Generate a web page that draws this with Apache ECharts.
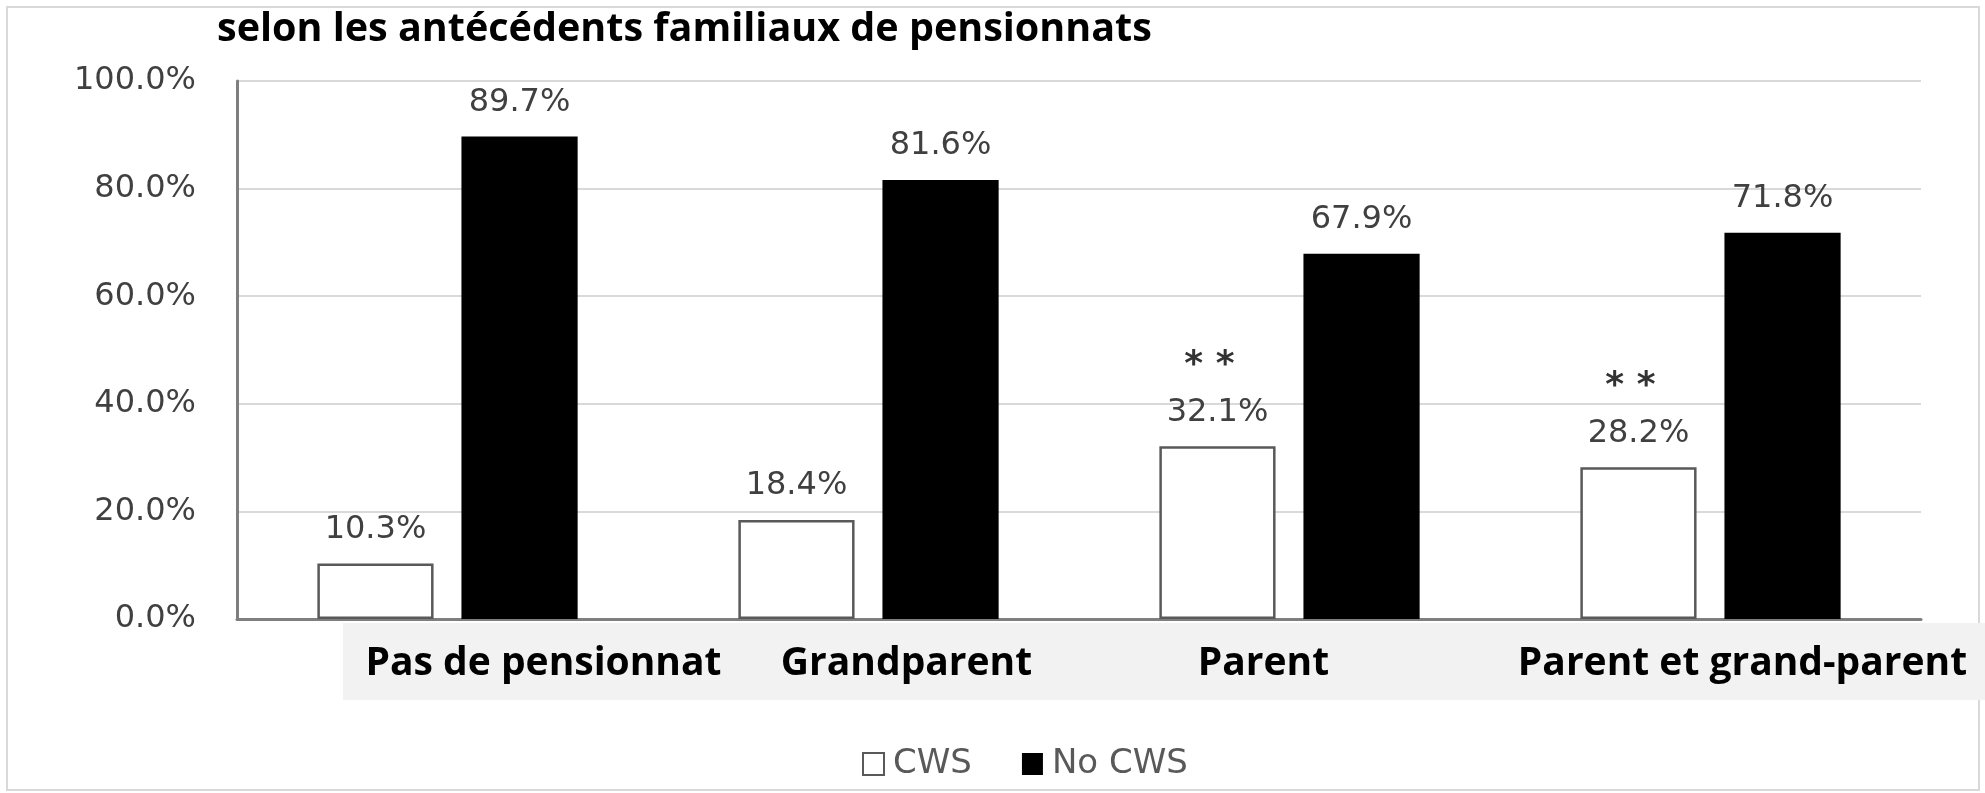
<!DOCTYPE html>
<html>
<head>
<meta charset="utf-8">
<title>CWS selon les antécédents familiaux de pensionnats</title>
<script src="https://cdn.jsdelivr.net/npm/echarts@6/dist/echarts.min.js"></script>
<style>
    html, body { margin: 0; padding: 0; background: #fff; }
    #chart { width: 1985px; height: 793px; }
</style>
</head>
<body>
<div id="chart"></div>
<script>
// data
var categories = ['Pas de pensionnat', 'Grandparent', 'Parent', 'Parent et grand-parent'];
var seriesNames = ['CWS', 'No CWS'];
var cwsValues = [10.3, 18.4, 32.1, 28.2];
var noCwsValues = [89.7, 81.6, 67.9, 71.8];
var significance = ['', '', '**', '**'];
var yMin = 0, yMax = 100, yStep = 20;

// the category labels sit off-centre in the original, shift them a bit (px)
var labelShift = [96, 38, -26, 32];

(function () {
    var myChart = echarts.init(document.getElementById('chart'));

    var catRich = {};
    labelShift.forEach(function (d, i) {
        catRich['c' + i] = {
            fontFamily: 'Open Sans',
            fontWeight: 'bold',
            fontSize: 39,
            color: '#000',
            padding: d > 0 ? [0, 0, 0, 2 * d] : [0, 2 * -d, 0, 0]
        };
    });

    var pct = function (v) { return v.toFixed(1) + '%'; };

    var option = {
        backgroundColor: '#fff',
        animation: false,
        title: {
            text: 'selon les antécédents familiaux de pensionnats',
            left: 217,
            top: 10,
            padding: 0,
            textStyle: {
                fontFamily: 'Open Sans',
                fontWeight: 'bold',
                fontSize: 39.5,
                color: '#000'
            }
        },
        graphic: [
            {
                type: 'rect',
                z: -10,
                shape: { x: 7, y: 7, width: 1972, height: 783 },
                style: { fill: 'none', stroke: '#d9d9d9', lineWidth: 2 }
            },
            {
                type: 'rect',
                z: -5,
                shape: { x: 343, y: 623, width: 1642, height: 77 },
                style: { fill: '#f2f2f2' }
            }
        ],
        legend: {
            data: seriesNames,
            left: 857,
            top: 742,
            icon: 'rect',
            itemWidth: 21,
            itemHeight: 22,
            itemGap: 50,
            textStyle: {
                fontFamily: 'DejaVu Sans',
                fontSize: 34,
                color: '#595959',
                padding: [0, 0, 0, 4]
            }
        },
        grid: {
            left: 237,
            right: 64,
            top: 81,
            bottom: 174,
            containLabel: false
        },
        xAxis: {
            type: 'category',
            data: categories,
            axisLine: { lineStyle: { color: '#7f7f7f', width: 3 } },
            axisTick: { show: false },
            axisLabel: {
                margin: 25,
                interval: 0,
                formatter: function (v, i) { return '{c' + i + '|' + v + '}'; },
                rich: catRich
            }
        },
        yAxis: {
            type: 'value',
            min: yMin,
            max: yMax,
            interval: yStep,
            axisLine: { show: true, lineStyle: { color: '#7f7f7f', width: 3 } },
            axisTick: { show: false },
            splitLine: { lineStyle: { color: '#d9d9d9', width: 2 } },
            axisLabel: {
                margin: 41,
                fontFamily: 'DejaVu Sans',
                fontSize: 32,
                color: '#404040',
                formatter: function (v) { return pct(v); }
            }
        },
        series: [
            {
                name: seriesNames[0],
                type: 'bar',
                data: cwsValues,
                barWidth: '27.6%',
                barGap: '24%',
                itemStyle: { color: '#fff', borderColor: '#595959', borderWidth: 2.5 },
                label: {
                    show: true,
                    position: 'top',
                    distance: 17,
                    formatter: function (p) {
                        var s = significance[p.dataIndex];
                        var txt = '{v|' + pct(p.value) + '}';
                        return s ? '{s|' + s.split('').join(' ') + '}\n' + txt : txt;
                    },
                    rich: {
                        v: { fontFamily: 'DejaVu Sans', fontSize: 32, color: '#404040', lineHeight: 34 },
                        s: { fontFamily: 'DejaVu Sans', fontWeight: 'bold', fontSize: 36, color: '#333', lineHeight: 60, padding: [0, 16, 0, 0] }
                    }
                }
            },
            {
                name: seriesNames[1],
                type: 'bar',
                data: noCwsValues,
                barWidth: '27.6%',
                itemStyle: { color: '#000' },
                label: {
                    show: true,
                    position: 'top',
                    distance: 17,
                    fontFamily: 'DejaVu Sans',
                    fontSize: 32,
                    color: '#404040',
                    lineHeight: 34,
                    formatter: function (p) { return pct(p.value); }
                }
            }
        ]
    };

    myChart.setOption(option);
})();
</script>
</body>
</html>
